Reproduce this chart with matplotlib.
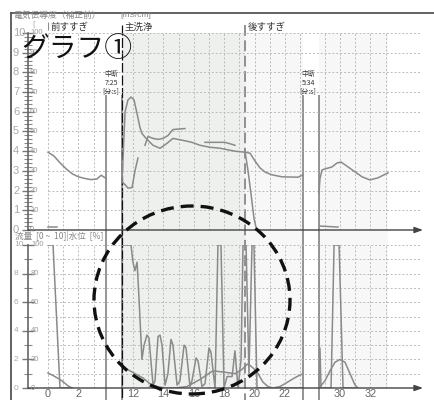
import numpy as np
import matplotlib
matplotlib.use('Agg')
import matplotlib.pyplot as plt
from matplotlib.patches import Ellipse
from matplotlib.lines import Line2D
from matplotlib.transforms import offset_copy

plt.rcParams['font.family'] = ['Noto Sans CJK JP', 'DejaVu Sans']

# time axis [min] with two interruptions (中断)
brk_t = [3.82, 11.28, 23.19, 28.62]
brk_lab = ['7:25', '5:34']
gap_w = 1.05
phase_t = [0, 11.28, 19.4]
phase_name = ['前すすぎ', '主洗浄', '後すすぎ']
t_end = 33.16
xticks = [0, 2, 12, 14, 16, 18, 20, 22, 30, 32]

# conductivity [mS/cm]
cond_a_t = [0, 0.4, 0.8, 1.2, 1.6, 2.0, 2.4, 2.8, 3.2, 3.5, 3.65, 3.82]
cond_a = [3.95, 3.75, 3.4, 3.1, 2.85, 2.7, 2.62, 2.56, 2.58, 2.78, 2.7, 2.62]
cond_b1_t = [11.28, 11.48, 11.67, 11.94, 12.13, 12.33]
cond_b1 = [2.44, 2.3, 2.13, 2.15, 3.0, 3.65]
cond_b2_t = [11.28, 11.48, 11.67, 11.87, 12.07, 12.27, 12.46, 12.59, 12.92, 13.32,
             13.78, 14.24, 14.63, 15.29, 15.88, 16.41, 17.07, 17.73, 18.71, 19.37,
             19.7, 20.03, 20.36, 20.69, 21.15, 21.80, 22.86, 23.19]
cond_b2 = [2.5, 6.0, 6.6, 6.75, 6.6, 5.9, 5.2, 4.9, 4.6, 4.3,
           4.15, 4.4, 4.65, 4.55, 4.45, 4.3, 4.2, 4.15, 4.0, 3.95,
           3.9, 3.5, 3.15, 2.94, 2.8, 2.7, 2.68, 2.8]
cond_b3_t = [12.79, 12.99, 13.32, 13.65, 13.98, 14.31, 14.63, 15.42]
cond_b3 = [4.3, 4.75, 4.65, 4.6, 4.65, 4.8, 5.1, 5.15]
cond_b4_t = [16.74, 17.40, 18.05, 18.51, 18.71]
cond_b4 = [4.45, 4.45, 4.45, 4.35, 4.3]
cond_b5_t = [19.37, 19.57, 19.77, 19.96, 20.09]
cond_b5 = [4.0, 3.0, 1.8, 0.6, 0.15]
cond_c_t = [28.62, 28.68, 28.82, 29.01, 29.47, 29.80, 30.07, 30.53, 30.99, 31.45, 31.97, 32.50, 33.16]
cond_c = [1.9, 2.6, 3.05, 3.1, 3.2, 3.4, 3.45, 3.2, 2.95, 2.7, 2.54, 2.65, 2.9]
cond_low1_t = [0, 0.6]
cond_low1 = [0.15, 0.15]
cond_low2_t = [28.68, 29.87]
cond_low2 = [0.2, 0.15]

# water level [%]
lvl_a_t = [0, 0.33, 0.79, 1.6]
lvl_a = [100, 100, 0, 0]
lvl_b_t = [11.28, 11.87, 12.00, 12.13, 12.27, 12.40, 12.59, 12.73, 12.92, 13.05,
           13.32, 13.45, 13.65, 13.78, 13.91, 14.11, 14.30, 14.50, 14.63, 14.90,
           15.09, 15.36, 15.49, 15.75, 15.88, 16.15, 16.28, 16.54, 16.74, 17.00,
           17.13, 17.40, 17.59, 17.79, 17.99, 18.19, 18.52, 18.71, 18.91, 19.11,
           19.24, 19.44, 19.63, 19.83, 19.96, 20.16, 23.19]
lvl_b = [100, 100, 88, 82, 88, 62, 20, 30, 37, 35,
         2, 5, 36, 37, 30, 2, 10, 34, 30, 2,
         5, 30, 28, 1, 5, 21, 19, 1, 3, 28,
         25, 0, 100, 100, 0, 8, 8, 26, 0, 20,
         100, 100, 10, 100, 100, 0, 0]
lvl_c_t = [28.62, 28.68, 28.75, 29.41, 29.61, 29.94, 30.20, 31.0]
lvl_c = [0, 28, 0, 0, 100, 100, 0, 0]

# flow [0 ~ 10]
flow_a_t = [0, 0.46, 0.92, 1.32, 1.58]
flow_a = [1.05, 0.8, 0.5, 0.15, 0]
flow_b_t = [11.28, 11.80, 12.66, 13.12, 13.58, 14.11, 14.77, 15.55, 16.41, 17.26, 18.05, 18.71,
            19.17, 19.57, 19.90, 20.23, 20.56, 20.88, 21.21, 21.67, 22.00, 22.46, 22.79, 23.19]
flow_b = [1.5, 1.2, 0.7, 0.3, 0.1, 0, 0, 0.1, 0.6, 1.2, 1.1, 1.0,
          1.3, 1.7, 1.4, 1.0, 0.4, 0.1, 0, 0.1, 0.3, 0.6, 0.8, 1.0]
flow_c_t = [28.62, 29.01, 29.34, 29.67, 30.00, 30.33, 30.66, 30.99, 31.18]
flow_c = [0, 0.5, 1.2, 1.8, 2.0, 1.8, 1.0, 0.2, 0]

# piecewise time scale: interruptions squeezed to a narrow gap
tk = [-10, brk_t[0], brk_t[1], brk_t[2], brk_t[3], 60]
uk = [-10, brk_t[0], brk_t[0] + gap_w]
uk.append(uk[2] + brk_t[2] - brk_t[1])
uk.append(uk[3] + gap_w)
uk.append(uk[4] + 60 - brk_t[3])


def fwd(t):
    return np.interp(t, tk, uk)


def inv(u):
    return np.interp(u, uk, tk)


W, H = 435, 400
def fx(px):
    return px / W
def fy(py):
    return 1 - py / H

xl, xr = 28, 423
xlim = (-1.316, 35.46)
grid_t = list(range(0, 4)) + list(range(12, 24)) + list(range(29, 34))
grid_end = 35.26
LC = '#8a8a8a'

fig = plt.figure(figsize=(4.35, 4.0), dpi=100)
ov = fig.add_axes([fx(xl), 0, (xr - xl) / W, 1], zorder=0)
top = fig.add_axes([fx(xl), fy(230), (xr - xl) / W, 197 / H], zorder=2)
bot = fig.add_axes([fx(xl), fy(388), (xr - xl) / W, 143 / H], zorder=2)

for ax in (ov, top, bot):
    ax.set_xscale('function', functions=(fwd, inv))
    ax.set_xlim(*xlim)
    ax.patch.set_alpha(0)
ov.set_ylim(400, 0)
ov.axis('off')

# phase shading
ov.axvspan(phase_t[1], phase_t[2], ymin=fy(388), ymax=fy(33), color='#edf0ed', lw=0)
ov.axvspan(phase_t[2], brk_t[2], ymin=fy(388), ymax=fy(33), color='#f6f7f6', lw=0)
ov.axvspan(brk_t[3], t_end, ymin=fy(388), ymax=fy(33), color='#f6f7f6', lw=0)

# interruption lines and labels
ov.vlines(brk_t, 95, 400, colors='#777777', lw=1.1)
for i, lab in enumerate(brk_lab):
    tr = offset_copy(ov.transData, fig=fig, x=-11, y=0, units='dots')
    ov.text(brk_t[2 * i + 1], 70, '中断\n' + lab + '\n[分:s]', transform=tr, ha='center', va='top',
            multialignment='center', fontsize=5, color='#333333', linespacing=1.15)

# phase lines and labels
ov.vlines(phase_t[1], 25, 400, colors='#111111', lw=0.9, linestyles=(0, (8, 2)))
ov.vlines(phase_t[2], 25, 400, colors='#888888', lw=1.3, linestyles=(0, (6, 2.5)))
ov.vlines(phase_t[0], 22, 30, colors='#888888', lw=0.7)
for t, name in zip(phase_t, phase_name):
    tr = offset_copy(ov.transData, fig=fig, x=2.5, y=0, units='dots')
    ov.text(t, 27, name, transform=tr, ha='left', va='center', fontsize=6.8, color='#333333')

# panels
for ax, ymax, step in ((top, 10, 1), (bot, 100, 10)):
    ax.set_ylim(0, ymax)
    ax.vlines(grid_t, 0, ymax, colors='#bbbbbb', lw=0.7, linestyles=(0, (2, 2)))
    ax.hlines(np.arange(step, ymax + 0.01, step), 0, grid_end, colors='#bbbbbb', lw=0.7,
              linestyles=(0, (2, 2)))
    for s in ('top', 'right', 'bottom'):
        ax.spines[s].set_visible(False)
    ax.spines['left'].set_color('#666666')
    ax.spines['left'].set_linewidth(1.2)
    ax.annotate('', xy=(1, 0), xytext=(0, 0), xycoords='axes fraction',
                arrowprops=dict(arrowstyle='-|>,head_length=0.5,head_width=0.18',
                                color='#444444', lw=1.0, shrinkA=0, shrinkB=0))

top.set_yticks(np.arange(0, 11, 1))
top.set_yticks(np.arange(0, 10.01, 0.2), minor=True)
top.set_yticklabels([])
top.tick_params(axis='y', which='major', direction='inout', length=9, width=1, color='#777777')
top.tick_params(axis='y', which='minor', direction='inout', length=6, width=0.8, color='#888888')
top.tick_params(axis='x', which='both', length=0, labelbottom=False)

bot.set_yticks(np.arange(0, 101, 20))
bot.set_yticks(np.arange(0, 101, 10), minor=True)
bot.set_yticklabels([])
bot.tick_params(axis='y', which='major', direction='inout', length=9, width=1, color='#777777')
bot.tick_params(axis='y', which='minor', direction='inout', length=6, width=0.8, color='#888888')
bot.set_xticks(xticks)
bot.set_xticklabels([str(v) for v in xticks], family=['Liberation Sans Narrow', 'Liberation Sans'])
bot.xaxis.set_minor_locator(matplotlib.ticker.NullLocator())
bot.tick_params(axis='x', length=0, labelsize=7.8, labelcolor='#666666', pad=0.5)

# y labels: big value + small percent
for v in range(0, 11):
    trb = offset_copy(top.get_yaxis_transform(), fig=fig, x=-15, y=0, units='dots')
    trs = offset_copy(top.get_yaxis_transform(), fig=fig, x=2, y=0, units='dots')
    top.text(0, v, str(v), transform=trb, ha='left', va='center', fontsize=8, color='#aaaaaa',
             family='Liberation Sans')
    top.text(0, v, str(v * 10), transform=trs, ha='left', va='center', fontsize=5.5, color='#999999',
             family='Liberation Sans')
for v in range(0, 101, 20):
    trb = offset_copy(bot.get_yaxis_transform(), fig=fig, x=-14, y=0, units='dots')
    trs = offset_copy(bot.get_yaxis_transform(), fig=fig, x=3, y=0, units='dots')
    bot.text(0, v, str(v // 10), transform=trb, ha='left', va='center', fontsize=6, color='#aaaaaa',
             family='Liberation Sans')
    bot.text(0, v, str(v), transform=trs, ha='left', va='center', fontsize=5.5, color='#999999',
             family='Liberation Sans')

# data lines
kw = dict(color=LC, lw=1.1, solid_joinstyle='round')
for xs, ys in ((cond_a_t, cond_a), (cond_b1_t, cond_b1), (cond_b2_t, cond_b2),
               (cond_b3_t, cond_b3), (cond_b4_t, cond_b4), (cond_b5_t, cond_b5),
               (cond_c_t, cond_c), (cond_low1_t, cond_low1), (cond_low2_t, cond_low2)):
    top.plot(xs, ys, **kw)
for xs, ys in ((lvl_a_t, lvl_a), (lvl_b_t, lvl_b), (lvl_c_t, lvl_c)):
    bot.plot(xs, ys, **kw)
for xs, ys in ((flow_a_t, flow_a), (flow_b_t, flow_b), (flow_c_t, flow_c)):
    bot.plot(xs, np.array(ys) * 10, **kw)

# frame, headers, title
fig.add_artist(Line2D([fx(11), fx(11)], [0, fy(13)], color='#555555', lw=1.3))
fig.add_artist(Line2D([fx(11), 1], [fy(13), fy(13)], color='#555555', lw=1.3))
fig.text(fx(13), fy(15.5), '電気伝導度（補正前）', fontsize=6.3, color='#888888', va='center')
fig.text(fx(120), fy(15.5), '[mS/cm]', fontsize=6, color='#888888', va='center', family='Liberation Sans')
fig.text(fx(32), fy(24), '[', fontsize=5.5, color='#888888', va='center')
fig.text(fx(15), fy(236), '流量  [0 ~  10]|水位  [%]', fontsize=6.2, color='#888888', va='center')
fig.text(fx(21), fy(49), 'グラフ①', fontsize=20, color='#111111', va='center', ha='left')

# highlight circle
fig.add_artist(Ellipse((fx(192), fy(300)), 196 / W, 188 / H, transform=fig.transFigure, fill=False,
                       edgecolor='#111111', lw=2.4, linestyle=(0, (3.9, 2.1)), zorder=5))

fig.savefig('out.png', dpi=100)
